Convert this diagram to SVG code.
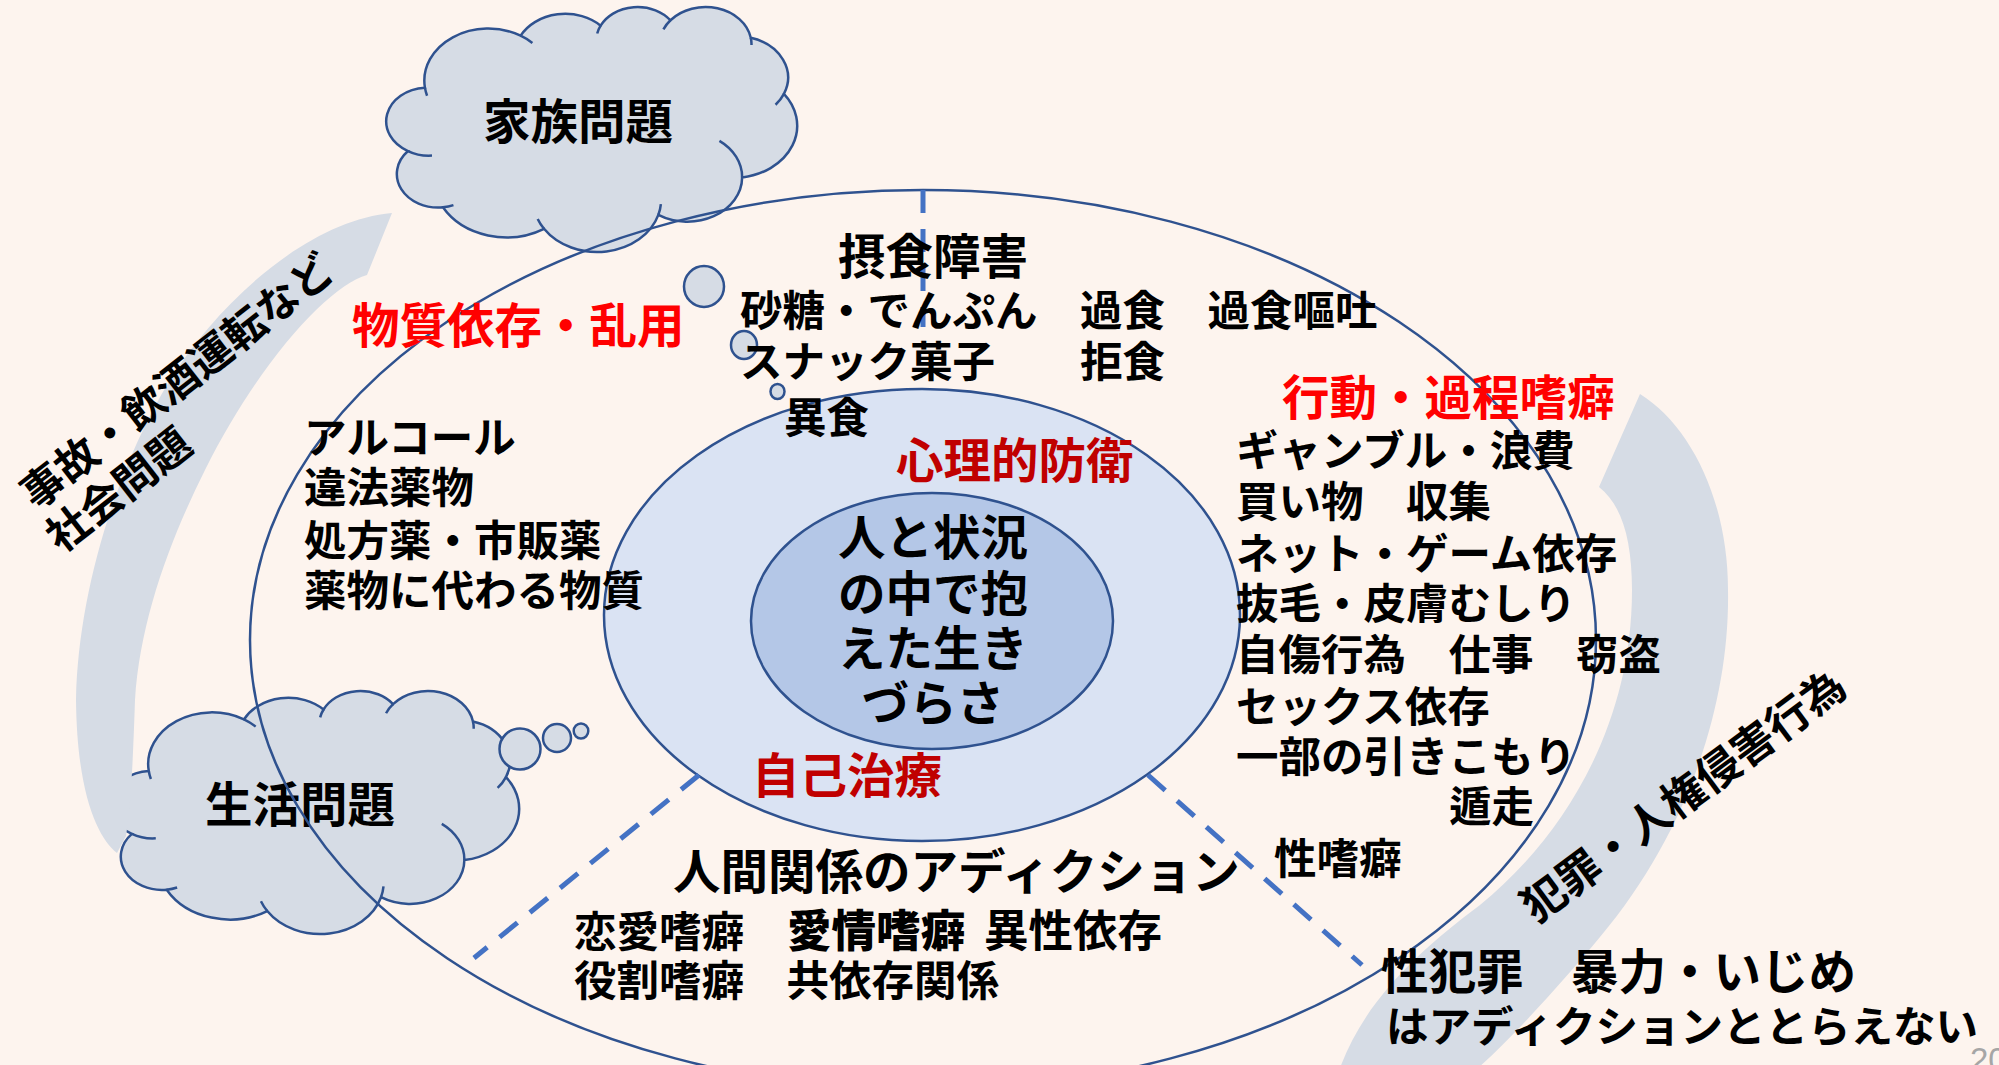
<svg xmlns="http://www.w3.org/2000/svg" xmlns:xlink="http://www.w3.org/1999/xlink" width="1999" height="1065" viewBox="0 0 1999 1065">
<style>
.bg{fill:#fdf4ee}
.cloud{fill:#d6dce5;stroke:#2f528f;stroke-width:2.5}
.hook{fill:none;stroke:#2f528f;stroke-width:2.5}
.bubble{fill:#d6dce5;stroke:#2f528f;stroke-width:2.5}
.band{fill:#d6dce5}
.ring{fill:none;stroke:#2f528f;stroke-width:2.5}
.mid{fill:#dae3f3;stroke:#2f528f;stroke-width:2.5}
.core{fill:#b4c7e7;stroke:#2f528f;stroke-width:2.5}
.dash{fill:none;stroke:#4472c4;stroke-width:5;stroke-dasharray:23 16}
.t{font-family:"Noto Sans CJK JP","Noto Sans CJK SC",sans-serif;font-weight:700;fill:#000}
.b{font-size:42.5px}
.h{font-size:47.5px}
.red{fill:#ff0000}
.dred{fill:#c00000}
.pg{font-family:"Liberation Sans",Arial,sans-serif;font-size:33px;fill:#a6a6a6}
</style>
<defs>
<path id="cloudShape" vector-effect="non-scaling-stroke" d="M3900,14370 A6753,9190 0 0 1 14005,5202 A5333,7267 0 0 1 22455,3433 A4365,5945 0 0 1 29832,2481 A4857,6595 0 0 1 38317,5577 A5333,7273 0 0 1 41817,15461 A6775,9220 0 0 1 37403,30205 A5785,7867 0 0 1 28554,36815 A6752,9215 0 0 1 16479,39268 A7720,10543 0 0 1 5803,35473 A4360,5918 0 0 1 2112,25551 A4345,5945 0 0 1 3900,14370 Z"/>
<path id="cloudHooks" vector-effect="non-scaling-stroke" d="M4646,26348 A4345,5945 0 0 1 2112,25551 M6912,35091 A4360,5918 0 0 1 5803,35473 M16479,39268 A6752,9215 0 0 1 15811,37527 M28821,34906 A6752,9215 0 0 1 28554,36815 M35005,23765 A5785,7867 0 0 1 37403,30205 M41817,15461 A5333,7273 0 0 1 40932,17379 M38317,5577 A4857,6595 0 0 1 38393,6839 M29090,4095 A4857,6595 0 0 1 29832,2481 M22096,4823 A4365,5945 0 0 1 22455,3433 M14005,5202 A6753,9190 0 0 1 15250,6478 M4127,15789 A6753,9190 0 0 1 3900,14370"/>
</defs>
<rect class="bg" x="0" y="0" width="1999" height="1065"/>

<g id="band-right">
<path class="band" d="M1640,394 C1690,425 1728,500 1728,590 C1730,700 1690,830 1600,937 C1560,985 1510,1040 1478,1068 L1340,1068 C1365,1000 1420,950 1480,905 C1560,840 1632,730 1632,590 C1632,540 1622,505 1599,487 Z"/>
</g>

<g id="cloud-family">
<use xlink:href="#cloudShape" href="#cloudShape" class="cloud" transform="translate(388,6.2) scale(0.009468,0.005669)"/>
<use xlink:href="#cloudHooks" href="#cloudHooks" class="hook" transform="translate(388,6.2) scale(0.009468,0.005669)"/>
<ellipse class="bubble" cx="704" cy="286.5" rx="20" ry="20.5"/>
<ellipse class="bubble" cx="744" cy="345" rx="13" ry="14"/>
<ellipse class="bubble" cx="777.5" cy="391.5" rx="7" ry="7.5"/>
<text class="t h" x="578" y="139" text-anchor="middle">家族問題</text>
</g>

<g id="cloud-life">
<use xlink:href="#cloudShape" href="#cloudShape" class="cloud" transform="translate(112,690.2) scale(0.009421,0.005623)"/>
<use xlink:href="#cloudHooks" href="#cloudHooks" class="hook" transform="translate(112,690.2) scale(0.009421,0.005623)"/>
<ellipse class="bubble" cx="520" cy="749" rx="20.5" ry="20.5"/>
<ellipse class="bubble" cx="557" cy="738" rx="14" ry="14"/>
<ellipse class="bubble" cx="581" cy="731" rx="7.3" ry="7.5"/>
</g>

<g id="band-left">
<path class="band" d="M117,853 C98,838 77,795 76,700 C78,590 118,465 170,380 C220,300 310,220 392,213 L367,275 C330,285 260,360 205,470 C170,540 140,620 135,700 C133,760 131,805 126,836 Z"/>
</g>

<g id="label-life">
<text class="t h" x="300" y="822" text-anchor="middle">生活問題</text>
</g>

<g id="outer-ring">
<ellipse class="ring" cx="923" cy="640" rx="673" ry="450"/>
</g>
<g id="defense-ring">
<ellipse class="mid" cx="922" cy="615" rx="318" ry="226"/>
</g>
<g id="core">
<ellipse class="core" cx="932" cy="621" rx="181" ry="128"/>
<text class="t h" text-anchor="middle"><tspan x="933" y="555">人と状況</tspan><tspan x="933" y="611">の中で抱</tspan><tspan x="933" y="666">えた生き</tspan><tspan x="933" y="721">づらさ</tspan></text>
</g>

<g id="connectors">
<line class="dash" x1="923" y1="190" x2="923" y2="327"/>
<line class="dash" x1="699" y1="775" x2="474" y2="958"/>
<line class="dash" x1="1148" y1="775" x2="1362" y2="965"/>
</g>

<g id="eating">
<text class="t h" x="838" y="274">摂食障害</text>
<text class="t b" x="740" y="326">砂糖・でんぷん　過食　過食嘔吐</text>
<text class="t b" x="740" y="377">スナック菓子　　拒食</text>
<text class="t b" x="784" y="433">異食</text>
</g>

<g id="substance">
<text class="t h red" x="352" y="343">物質依存・乱用</text>
<text class="t b" x="304" y="453">アルコール</text>
<text class="t b" x="304" y="503">違法薬物</text>
<text class="t b" x="304" y="556">処方薬・市販薬</text>
<text class="t b" x="304" y="606">薬物に代わる物質</text>
</g>

<g id="defense-labels">
<text class="t h dred" x="896" y="478">心理的防衛</text>
<text class="t h dred" x="752" y="793">自己治療</text>
</g>

<g id="process">
<text class="t h red" x="1282" y="415">行動・過程嗜癖</text>
<text class="t b" x="1236" y="466">ギャンブル・浪費</text>
<text class="t b" x="1236" y="517">買い物　収集</text>
<text class="t b" x="1236" y="569">ネット・ゲーム依存</text>
<text class="t b" x="1236" y="619">抜毛・皮膚むしり</text>
<text class="t b" x="1236" y="670">自傷行為　仕事　窃盗</text>
<text class="t b" x="1236" y="722">セックス依存</text>
<text class="t b" x="1236" y="772">一部の引きこもり</text>
<text class="t b" x="1449" y="822">遁走</text>
<text class="t b" x="1274" y="874">性嗜癖</text>
</g>

<g id="relationship">
<text class="t h" x="673" y="889">人間関係のアディクション</text>
<text class="t b" y="947"><tspan x="574">恋愛嗜癖</tspan><tspan x="787" style="font-weight:900;font-size:44.5px">愛情嗜癖</tspan><tspan x="984" style="font-size:44.5px">異性依存</tspan></text>
<text class="t b" x="574" y="996">役割嗜癖　共依存関係</text>
</g>

<g id="crime">
<text class="t h" x="1381" y="989">性犯罪　暴力・いじめ</text>
<text class="t b" x="1386" y="1042">はアディクションととらえない</text>
<text class="t b" transform="translate(1536,924) rotate(-36.5)" style="font-size:43.3px">犯罪・人権侵害行為</text>
</g>

<g id="social">
<text class="t b" transform="translate(36,511) rotate(-38)">事故・飲酒運転など</text>
<text class="t b" transform="translate(61,554) rotate(-38)">社会問題</text>
</g>

<text class="pg" x="1970" y="1071">20</text>
</svg>
